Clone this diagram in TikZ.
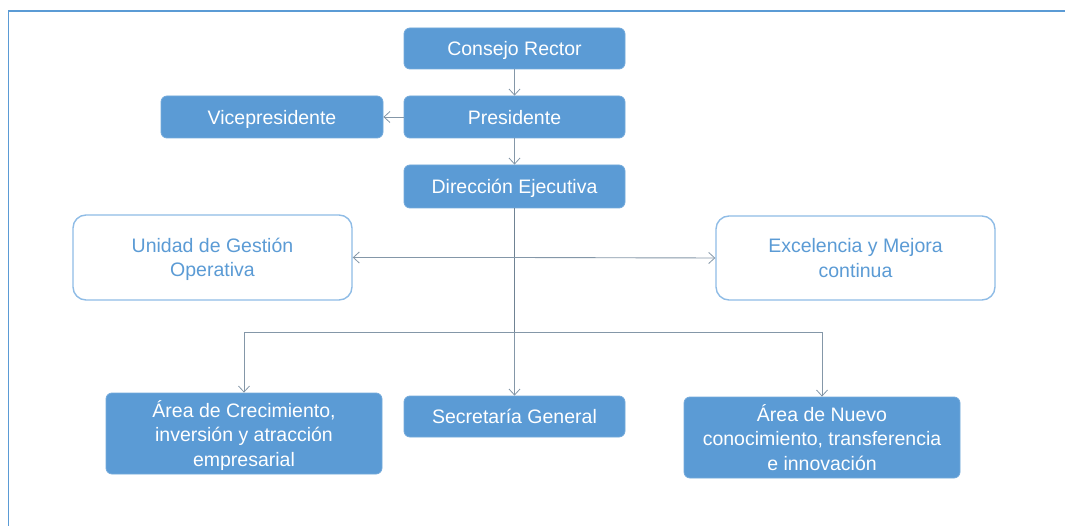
\documentclass[tikz,border=0pt]{standalone}
\usepackage{fontspec}
\setmainfont{Liberation Sans}
\usetikzlibrary{arrows.meta}
\definecolor{boxblue}{HTML}{5B9BD5}
\definecolor{edgeblue}{HTML}{8FBCE6}
\definecolor{linkgray}{HTML}{8497A8}
\definecolor{trunkgray}{HTML}{6F8293}
\begin{document}
\begin{tikzpicture}[x=1pt,y=-1pt,
  every node/.style={font=\fontsize{19.5}{24.5}\selectfont, align=center, inner sep=2pt, text depth=0pt},
  filledbox/.style={fill=boxblue, draw=boxblue!85!white, line width=0.8pt, rounded corners=6pt, text=white},
  openbox/.style={fill=white, draw=edgeblue, line width=1.4pt, rounded corners=13pt, text=boxblue},
  link/.style={draw=linkgray, line width=0.9pt},
  arrow/.style={link, -{Straight Barb[length=6pt,width=11pt,line width=0.8pt]}}]
  \useasboundingbox (0,0) rectangle (1065,526);

  % partial frame (top and left edges)
  \draw[boxblue, line width=1.2pt] (1065,11) -- (8.5,11) -- (8.5,526);

  % top chain
  \node[filledbox, minimum width=221pt, minimum height=41pt] (cr) at (514.5,48.5) {Consejo Rector};
  \node[filledbox, minimum width=221pt, minimum height=42pt] (pr) at (514.5,117) {Presidente};
  \node[filledbox, minimum width=222pt, minimum height=42pt] (vp) at (272,117) {Vicepresidente};
  \node[filledbox, minimum width=221pt, minimum height=43pt] (de) at (514.5,186.5) {Dirección Ejecutiva};

  % staff units
  \node[openbox, minimum width=279pt, minimum height=85pt] (ug) at (212.5,257.5) {Unidad de Gestión\\Operativa};
  \node[openbox, minimum width=279pt, minimum height=84pt] (em) at (855.5,258) {Excelencia y Mejora\\continua};

  % line areas
  \node[filledbox, minimum width=276pt, minimum height=81pt] (ac) at (244,433.5) {Área de Crecimiento,\\inversión y atracción\\empresarial};
  \node[filledbox, minimum width=221pt, minimum height=41pt] (sg) at (514.5,416.5) {Secretaría General};
  \node[filledbox, minimum width=276pt, minimum height=81pt] (an) at (822,437.5) {Área de Nuevo\\conocimiento, transferencia\\e innovación};

  % connectors
  \draw[arrow] (cr) -- (pr);
  \draw[arrow] (pr) -- (vp);
  \draw[arrow] (pr) -- (de);

  \coordinate (split) at (514.5,257.5);
  \coordinate (bus) at (514.5,332);
  \draw[link, draw=trunkgray, line width=1.3pt] (de.south) -- (bus);
  \draw[arrow] (split) -- (ug.east);
  \draw[arrow] (split) -- (em.west);

  \draw[arrow] (bus) -| (ac.north);
  \draw[arrow] (bus) -- (sg.north);
  \draw[arrow] (bus) -| (an.north);
\end{tikzpicture}
\end{document}
